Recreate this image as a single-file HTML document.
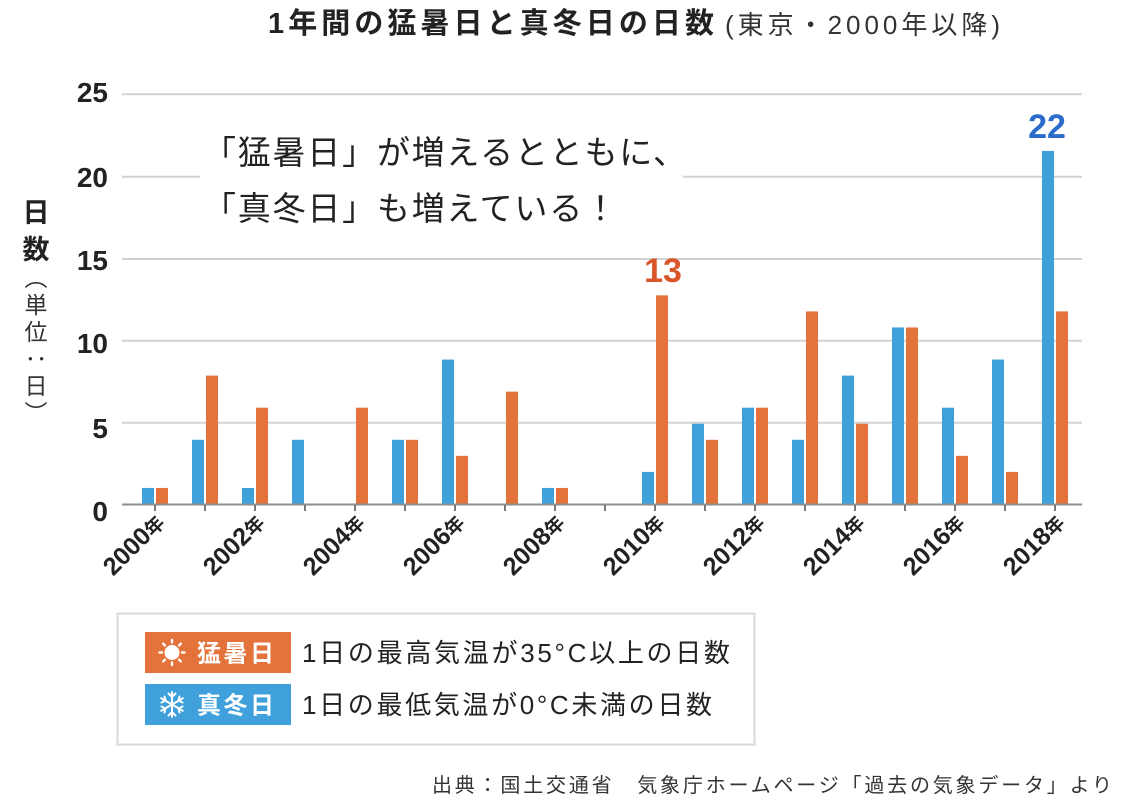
<!DOCTYPE html>
<html lang="ja">
<head>
<meta charset="utf-8">
<style>
  html,body{margin:0;padding:0;background:#fff;}
  body{position:relative;width:1132px;height:800px;overflow:hidden;}
  svg{display:block;position:absolute;left:0;top:0;}
  text{font-family:"Liberation Sans","Noto Sans CJK JP",sans-serif;}
  .vunit{position:absolute;left:24px;top:266px;width:24px;
    writing-mode:vertical-rl;font-family:"Noto Sans CJK JP","Liberation Sans",sans-serif;
    font-size:23px;line-height:24px;letter-spacing:4px;color:#333;white-space:nowrap;}
</style>
</head>
<body>
<svg width="1132" height="800" viewBox="0 0 1132 800" xmlns="http://www.w3.org/2000/svg">
  <rect x="0" y="0" width="1132" height="800" fill="#ffffff"/>

  <!-- Title -->
  <text x="268" y="33" font-size="29" font-weight="700" fill="#222" textLength="446" lengthAdjust="spacing">1年間の猛暑日と真冬日の日数</text>
  <text x="725" y="34" font-size="26" fill="#333" textLength="275" lengthAdjust="spacing">(東京・2000年以降)</text>

  <!-- Gridlines -->
  <g stroke="#d2d2d2" stroke-width="2">
    <line x1="122" y1="94.3" x2="1082" y2="94.3"/>
    <line x1="122" y1="176.7" x2="1082" y2="176.7"/>
    <line x1="122" y1="259" x2="1082" y2="259"/>
    <line x1="122" y1="340.7" x2="1082" y2="340.7"/>
    <line x1="122" y1="422.7" x2="1082" y2="422.7"/>
  </g>

  <!-- Annotation box -->
  <rect x="200" y="118" width="483" height="117" fill="#ffffff"/>
  <text x="203" y="164" font-size="33" fill="#222" textLength="483" lengthAdjust="spacing">「猛暑日」が増えるとともに、</text>
  <text x="203" y="220" font-size="33" fill="#222" textLength="414" lengthAdjust="spacing">「真冬日」も増えている！</text>

  <!-- Y tick labels -->
  <g font-size="28" font-weight="700" fill="#222" text-anchor="end">
    <text x="108" y="102">25</text>
    <text x="108" y="187">20</text>
    <text x="108" y="270">15</text>
    <text x="108" y="353">10</text>
    <text x="108" y="438">5</text>
    <text x="108" y="521">0</text>
  </g>

  <!-- Y axis title -->
  <g text-anchor="middle">
    <text x="36" y="222" font-size="27" font-weight="700" fill="#222">日</text>
    <text x="36" y="259" font-size="27" font-weight="700" fill="#222">数</text>
  </g>

  <!-- Bars: blue (真冬日) -->
  <g fill="#3FA0DB">
    <rect x="142" y="487.95" width="12" height="16.05"/>
    <rect x="192" y="439.8" width="12" height="64.2"/>
    <rect x="242" y="487.95" width="12" height="16.05"/>
    <rect x="292" y="439.8" width="12" height="64.2"/>
    <rect x="392" y="439.8" width="12" height="64.2"/>
    <rect x="442" y="359.55" width="12" height="144.45"/>
    <rect x="542" y="487.95" width="12" height="16.05"/>
    <rect x="642" y="471.9" width="12" height="32.1"/>
    <rect x="692" y="423.75" width="12" height="80.25"/>
    <rect x="742" y="407.7" width="12" height="96.3"/>
    <rect x="792" y="439.8" width="12" height="64.2"/>
    <rect x="842" y="375.6" width="12" height="128.4"/>
    <rect x="892" y="327.45" width="12" height="176.55"/>
    <rect x="942" y="407.7" width="12" height="96.3"/>
    <rect x="992" y="359.55" width="12" height="144.45"/>
    <rect x="1042" y="150.9" width="12" height="353.1"/>
  </g>
  <!-- Bars: orange (猛暑日) -->
  <g fill="#E3733A">
    <rect x="156" y="487.95" width="12" height="16.05"/>
    <rect x="206" y="375.6" width="12" height="128.4"/>
    <rect x="256" y="407.7" width="12" height="96.3"/>
    <rect x="356" y="407.7" width="12" height="96.3"/>
    <rect x="406" y="439.8" width="12" height="64.2"/>
    <rect x="456" y="455.85" width="12" height="48.15"/>
    <rect x="506" y="391.65" width="12" height="112.35"/>
    <rect x="556" y="487.95" width="12" height="16.05"/>
    <rect x="656" y="295.35" width="12" height="208.65"/>
    <rect x="706" y="439.8" width="12" height="64.2"/>
    <rect x="756" y="407.7" width="12" height="96.3"/>
    <rect x="806" y="311.4" width="12" height="192.6"/>
    <rect x="856" y="423.75" width="12" height="80.25"/>
    <rect x="906" y="327.45" width="12" height="176.55"/>
    <rect x="956" y="455.85" width="12" height="48.15"/>
    <rect x="1006" y="471.9" width="12" height="32.1"/>
    <rect x="1056" y="311.4" width="12" height="192.6"/>
  </g>

  <!-- Axis line and ticks -->
  <line x1="122" y1="504.5" x2="1082" y2="504.5" stroke="#8c8c8c" stroke-width="2"/>
  <g stroke="#7a7a7a" stroke-width="2">
    <line x1="155" y1="505" x2="155" y2="511"/>
    <line x1="205" y1="505" x2="205" y2="511"/>
    <line x1="255" y1="505" x2="255" y2="511"/>
    <line x1="305" y1="505" x2="305" y2="511"/>
    <line x1="355" y1="505" x2="355" y2="511"/>
    <line x1="405" y1="505" x2="405" y2="511"/>
    <line x1="455" y1="505" x2="455" y2="511"/>
    <line x1="505" y1="505" x2="505" y2="511"/>
    <line x1="555" y1="505" x2="555" y2="511"/>
    <line x1="605" y1="505" x2="605" y2="511"/>
    <line x1="655" y1="505" x2="655" y2="511"/>
    <line x1="705" y1="505" x2="705" y2="511"/>
    <line x1="755" y1="505" x2="755" y2="511"/>
    <line x1="805" y1="505" x2="805" y2="511"/>
    <line x1="855" y1="505" x2="855" y2="511"/>
    <line x1="905" y1="505" x2="905" y2="511"/>
    <line x1="955" y1="505" x2="955" y2="511"/>
    <line x1="1005" y1="505" x2="1005" y2="511"/>
    <line x1="1055" y1="505" x2="1055" y2="511"/>
  </g>

  <!-- X labels -->
  <g fill="#222" text-anchor="end">
    <text transform="translate(166,524) rotate(-45)"><tspan font-size="25" font-weight="700">2000</tspan><tspan font-size="19" font-weight="700">年</tspan></text>
    <text transform="translate(266,524) rotate(-45)"><tspan font-size="25" font-weight="700">2002</tspan><tspan font-size="19" font-weight="700">年</tspan></text>
    <text transform="translate(366,524) rotate(-45)"><tspan font-size="25" font-weight="700">2004</tspan><tspan font-size="19" font-weight="700">年</tspan></text>
    <text transform="translate(466,524) rotate(-45)"><tspan font-size="25" font-weight="700">2006</tspan><tspan font-size="19" font-weight="700">年</tspan></text>
    <text transform="translate(566,524) rotate(-45)"><tspan font-size="25" font-weight="700">2008</tspan><tspan font-size="19" font-weight="700">年</tspan></text>
    <text transform="translate(666,524) rotate(-45)"><tspan font-size="25" font-weight="700">2010</tspan><tspan font-size="19" font-weight="700">年</tspan></text>
    <text transform="translate(766,524) rotate(-45)"><tspan font-size="25" font-weight="700">2012</tspan><tspan font-size="19" font-weight="700">年</tspan></text>
    <text transform="translate(866,524) rotate(-45)"><tspan font-size="25" font-weight="700">2014</tspan><tspan font-size="19" font-weight="700">年</tspan></text>
    <text transform="translate(966,524) rotate(-45)"><tspan font-size="25" font-weight="700">2016</tspan><tspan font-size="19" font-weight="700">年</tspan></text>
    <text transform="translate(1066,524) rotate(-45)"><tspan font-size="25" font-weight="700">2018</tspan><tspan font-size="19" font-weight="700">年</tspan></text>
  </g>

  <!-- Value labels -->
  <text x="663" y="282" font-size="34" font-weight="700" fill="#D9562B" text-anchor="middle">13</text>
  <text x="1047" y="138" font-size="34" font-weight="700" fill="#2B6CCB" text-anchor="middle">22</text>

  <!-- Legend -->
  <rect x="117.5" y="613.5" width="637" height="131" fill="#ffffff" stroke="#d8d8d8" stroke-width="2"/>
  <rect x="145" y="632" width="146" height="41" fill="#E3733A"/>
  <rect x="145" y="684" width="146" height="41" fill="#3FA0DB"/>

  <!-- Sun icon -->
  <g fill="#ffffff">
    <circle cx="172" cy="652.5" r="7.5"/>
    <g stroke="#ffffff" stroke-width="2.4" stroke-linecap="round">
      <line x1="172" y1="640" x2="172" y2="642.5"/>
      <line x1="172" y1="662.5" x2="172" y2="665"/>
      <line x1="159.5" y1="652.5" x2="162" y2="652.5"/>
      <line x1="182" y1="652.5" x2="184.5" y2="652.5"/>
      <line x1="163.2" y1="643.7" x2="164.9" y2="645.4"/>
      <line x1="179.1" y1="659.6" x2="180.8" y2="661.3"/>
      <line x1="163.2" y1="661.3" x2="164.9" y2="659.6"/>
      <line x1="179.1" y1="645.4" x2="180.8" y2="643.7"/>
    </g>
  </g>
  <!-- Snowflake icon -->
  <g stroke="#ffffff" stroke-width="2" stroke-linecap="round" fill="none">
    <line x1="172" y1="692" x2="172" y2="717"/>
    <line x1="161.2" y1="698.2" x2="182.8" y2="710.8"/>
    <line x1="161.2" y1="710.8" x2="182.8" y2="698.2"/>
    <polyline points="168.5,693.5 172,697 175.5,693.5"/>
    <polyline points="168.5,715.5 172,712 175.5,715.5"/>
    <polyline points="161.5,702.5 165.5,700.5 164.5,696.5"/>
    <polyline points="182.5,706.5 178.5,708.5 179.5,712.5"/>
    <polyline points="161.5,706.5 165.5,708.5 164.5,712.5"/>
    <polyline points="182.5,702.5 178.5,700.5 179.5,696.5"/>
  </g>

  <text x="197" y="661.5" font-size="24" font-weight="700" fill="#ffffff" textLength="77" lengthAdjust="spacing">猛暑日</text>
  <text x="197" y="713.5" font-size="24" font-weight="700" fill="#ffffff" textLength="77" lengthAdjust="spacing">真冬日</text>

  <text x="302" y="662" font-size="26" fill="#222" textLength="428" lengthAdjust="spacing">1日の最高気温が35°C以上の日数</text>
  <text x="302" y="714" font-size="26" fill="#222" textLength="410" lengthAdjust="spacing">1日の最低気温が0°C未満の日数</text>

  <!-- Footer -->
  <text x="432" y="792" font-size="20" fill="#333" textLength="680" lengthAdjust="spacing">出典：国土交通省　気象庁ホームページ「過去の気象データ」より</text>
</svg>
<div class="vunit">（単位：日）</div>
</body>
</html>
